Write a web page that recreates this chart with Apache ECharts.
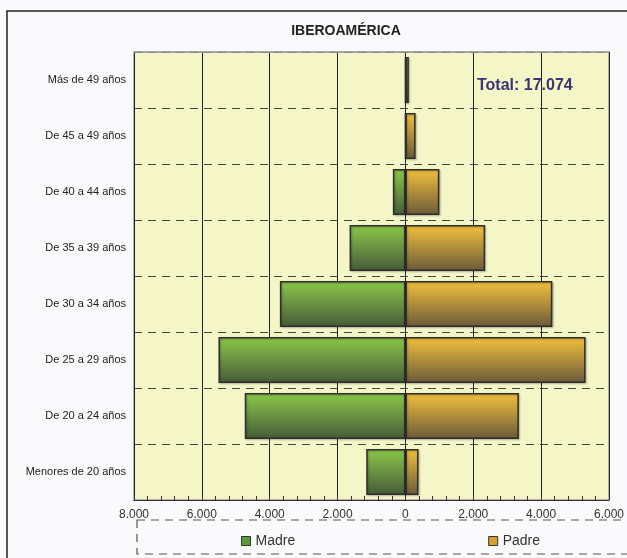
<!DOCTYPE html>
<html>
<head>
<meta charset="utf-8">
<script src="https://cdn.jsdelivr.net/npm/echarts@6/dist/echarts.min.js"></script>
<style>
  html, body { margin: 0; padding: 0; background: #fafafd; }
  #chart { width: 627px; height: 558px; }
</style>
</head>
<body>
<div id="chart"></div>
<script>
var myChart = echarts.init(document.getElementById('chart'));

// grupos de edad (de abajo hacia arriba)
var edades = ['Menores de 20 años', 'De 20 a 24 años', 'De 25 a 29 años', 'De 30 a 34 años',
              'De 35 a 39 años', 'De 40 a 44 años', 'De 45 a 49 años', 'Más de 49 años'];
// nacimientos segun edad de la madre y del padre
var madre = [1155, 4735, 5510, 3700, 1645, 370, 0, 0];
var padre = [385, 3345, 5310, 4330, 2350, 1000, 300, 100];
var totalTexto = 'Total: 17.074';

function miles(v) {
    v = Math.abs(v);
    return String(v).replace(/\B(?=(\d{3})+(?!\d))/g, '.');
}

var verde = new echarts.graphic.LinearGradient(0, 0, 0, 1, [
    { offset: 0, color: '#8cc84a' },
    { offset: 1, color: '#465a38' }
]);
var ocre = new echarts.graphic.LinearGradient(0, 0, 0, 1, [
    { offset: 0, color: '#f4c03c' },
    { offset: 1, color: '#6a5a3a' }
]);

var option = {
    backgroundColor: '#fafafd',
    animation: false,
    title: {
        text: 'IBEROAMÉRICA',
        left: 341,
        top: 19,
        textAlign: 'center',
        textStyle: {
            fontFamily: 'Liberation Sans',
            fontSize: 14,
            fontWeight: 'bold',
            color: '#222'
        }
    },
    legend: {
        left: 236,
        top: 529,
        icon: 'rect',
        itemWidth: 9,
        itemHeight: 9,
        itemGap: 193,
        textStyle: { fontFamily: 'Liberation Sans', fontSize: 14, color: '#333' },
        data: [
            { name: 'Madre', itemStyle: { color: '#5e9a3a', borderColor: '#333', borderWidth: 1 } },
            { name: 'Padre', itemStyle: { color: '#d8a030', borderColor: '#333', borderWidth: 1 } }
        ]
    },
    grid: {
        left: 134,
        right: 18,
        top: 52,
        bottom: 58,
        show: true,
        backgroundColor: '#f5f6c8',
        borderColor: '#a0a0a0',
        borderWidth: 1.5
    },
    xAxis: {
        type: 'value',
        min: -8000,
        max: 6000,
        interval: 2000,
        axisLine: { show: true, lineStyle: { color: '#333', width: 1 } },
        axisTick: { show: true, inside: true, length: 4, lineStyle: { color: '#333' } },
        minorTick: { show: true, splitNumber: 5, length: 4, lineStyle: { color: '#333' } },
        axisLabel: {
            formatter: miles,
            fontFamily: 'Liberation Sans',
            fontSize: 12,
            color: '#333',
            margin: 9
        },
        splitLine: { show: true, lineStyle: { color: '#222', width: 1 } }
    },
    yAxis: {
        type: 'category',
        data: edades,
        axisLine: { show: false },
        axisTick: { show: false },
        axisLabel: {
            fontFamily: 'Liberation Sans',
            fontSize: 11,
            color: '#222',
            margin: 8
        },
        splitLine: { show: true, lineStyle: { color: '#444', type: [8, 6], width: 1 } }
    },
    series: [
        {
            name: 'Madre',
            type: 'bar',
            stack: 'edad',
            barCategoryGap: '18%',
            data: madre.map(function (v) { return -v; }),
            itemStyle: {
                color: verde, borderColor: '#2e2e2e', borderWidth: 1.5,
                shadowColor: 'rgba(0,0,0,0.25)', shadowBlur: 2, shadowOffsetX: 1, shadowOffsetY: 1
            }
        },
        {
            name: 'Padre',
            type: 'bar',
            stack: 'edad',
            barCategoryGap: '18%',
            data: padre,
            itemStyle: {
                color: ocre, borderColor: '#2e2e2e', borderWidth: 1.5,
                shadowColor: 'rgba(0,0,0,0.25)', shadowBlur: 2, shadowOffsetX: 1, shadowOffsetY: 1
            }
        }
    ],
    graphic: [
        {
            type: 'rect',
            silent: true,
            shape: { x: 7, y: 11, width: 700, height: 600 },
            style: { fill: 'none', stroke: '#222', lineWidth: 1.5 },
            z: -1
        },
        {
            // borde superior gris del area de trazado
            type: 'line',
            silent: true,
            shape: { x1: 134, y1: 52, x2: 609, y2: 52 },
            style: { stroke: '#a0a0a0', lineWidth: 1.5 },
            z: 10
        },
        {
            type: 'rect',
            silent: true,
            shape: { x: 137, y: 520, width: 600, height: 34 },
            style: { fill: 'none', stroke: '#555', lineWidth: 1.2, lineDash: [8, 6] }
        },
        {
            type: 'text',
            left: 477,
            top: 78,
            style: {
                text: totalTexto,
                font: 'bold 16px "Liberation Sans"',
                fill: '#3b3575'
            },
            z: 10
        }
    ]
};

myChart.setOption(option);
</script>
</body>
</html>
